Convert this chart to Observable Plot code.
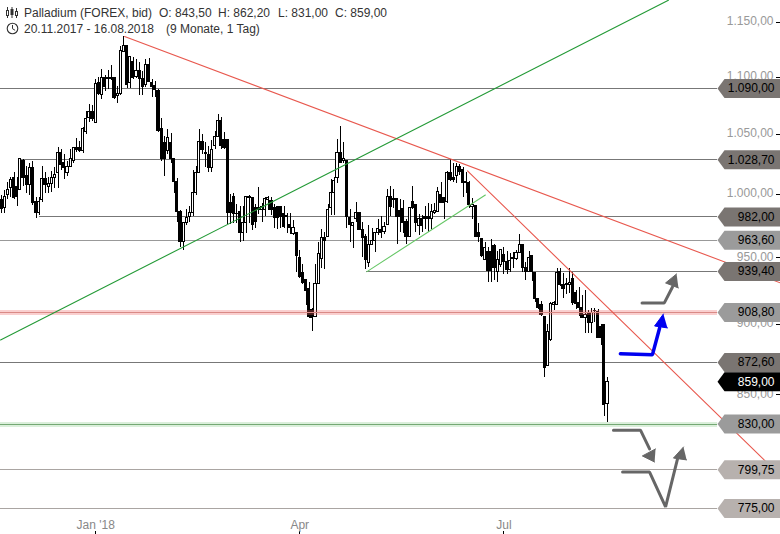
<!DOCTYPE html>
<html><head><meta charset="utf-8">
<script src="https://cdn.jsdelivr.net/npm/d3@7"></script>
<script src="https://cdn.jsdelivr.net/npm/@observablehq/plot@0.6"></script>
<style>
html,body{margin:0;padding:0;background:#fff}
#wrap{position:relative;width:780px;height:534px;overflow:hidden;font:12px "Liberation Sans",Arial,sans-serif;color:#333}
#wrap span.h{position:absolute;white-space:pre;line-height:14px}
#wrap svg.icon{position:absolute}
</style></head><body><div id="wrap"></div>
<script>
const opens=[996,989,1000,1005,1014,1006,1004,1028,1015,1008,
1022,994,985,996,1013,1006,1009,1014,1018,1034,
1026,1018,1023,1028,1039,1039,1036,1052,1064,1069,
1060,1095,1084,1099,1098,1098.5,1099,1083,1085,1123,
1128,1095,1114,1100,1106,1098,1093,1111,1095,1092,
1088,1055,1043,1036,1043,1029,1010,986,962,977,
982,985,1001,1018,1044,1034,1033,1022,1040,1048,
1062,1045.5,1045,993,998,984.5,986,969,977,997.5,
997,989,989,987.5,987.5,995.7,995,989,990,990,
984,983,976,968.5,969,950,938,933,926,910.6,
905.5,930,949,965.5,966,989,1001,1014,1034.5,1027.5,
1028,981,975,980,985,972,966,946,960,963,
969,972,970,975.5,998,996.5,996.5,987,988,978,
966,994,992,975,980,982,982,980,985,986,
1000,997,994,1018,1014,1015,1023,1020,1010.5,1009.5,
990,991,969,964.5,948,954.5,954.5,959,939,944.5,
952,947,940.7,949,949,954,960,942.5,939,951,
938,919,914,905.5,870,889,914,914.5,939,929,
929,929.5,934,923,916,912,905,908,901,910,
909,898,899.5,843.5];
const highs=[999,1003,1010,1014,1018,1014,1030,1029,1023,1026,
1027,998,998,1023,1018,1014,1019,1022,1039,1037,
1033,1027,1037,1039,1047,1044,1056,1070,1076,1075,
1098,1100,1107,1102,1106,1111,1100,1092,1128,1137,
1128,1118,1118,1116,1113,1105,1116,1117,1098,1096,
1089.5,1063.5,1048,1054,1051,1029,1013,987.5,978,988,
990,1020,1023,1054,1050,1043,1040,1045,1053,1067,
1065,1052,1045,1000,1001,992,990,990,998.5,999,
998,992,1006,993,998,998.5,998,992,990,990,
990,985,985,979,970,956,944.5,933,931,912,
945,962,972,970,992,1012,1014,1046,1057,1043,
1028,988,978,994,985,978,968,975,973,969,
980,982,978,1004,1007,1004,997,996,995,980,
989,1007,992,984,983,990,993,992,993,1006,
1010,998,1019,1029,1026,1026,1025,1022,1018.5,1011,
997,991,977,964.5,962,958,964,960,955,956,
958,954.5,953,954,956,968.5,960,946,954.5,952,
939,919,917,905.5,900,916,917,942,942,938,
934,942,938.5,925,927,921,925,910,912,912,
911,900,899.5,862.2];
const lows=[985,985,996,998,996,990,1003,1007,1001,999,
991,981,983,994,1001,1001,1002,1005,1005,1020,
1012,1015,1022,1026,1035,1035,1034,1050,1060,1061,
1060,1084,1080,1087,1089,1097,1080,1077,1084,1122,
1090,1090,1097.7,1099,1084,1084,1091,1095,1082,1082,
1052,1027,1015,1033,1026,1001,978,958,956,975,
978,982,999,1017,1033,1022,1018,1018,1037,1048,
1037,1037,976,976,977,977,962,963,969,977,
971,973,984,978,982,987.5,983,973,972,973,
973,969,968,967,939,934,929.5,914,904.5,895,
905,930,942,941,965.5,983,983,1009,1026,1026,
973,962,957,978,971,950,941,942.5,960,954,
967,965,968,975,982,989,960,970,969,960,
965.5,988,970,967,970,972,970,972,984,986,
993,980,993,1011,1009.5,1009,1016,998,1001,989,
980,965.5,961.5,950,948,931,931,933,931,942.5,
937,937,939,942,948,953,938.5,933,939,932,
916,911,905.5,861.7,869.6,887.3,910,914,928,919,
922,923,914,910.6,906,904,893.7,893,893,901,
890,885,835,831];
const closes=[988,998,1004,1012,997,998,1029,1014,1008,1022,
993,985,994,1013,1008,1009,1014,1016,1034,1024,
1022,1023,1029,1039,1037,1036,1055,1063.5,1069,1063,
1094,1085,1099,1091,1099,1099,1082,1085,1124,1128,
1093,1118,1099.5,1106,1098,1091,1111,1096,1091,1089,
1053,1029.5,1029.5,1047,1029,1010,986,962,977,981,
985,1001,1018,1044,1037,1033.5,1022,1037,1048,1062,
1040,1039,985,985,984,984,969,977,998,998,
975.5,978,987.5,990,996.5,997,987.5,981,981,982,
974,982,973,973,951,935,931,925,905.5,905,
930,953,965.5,963,987.5,1001,1011,1034.5,1026,1029,
982,975.5,977,985,972,965.5,948,960,963,969,
972.5,969,974,998,990,996,982,982,977,966,
989,989,977,980,975,980,980,986,987,1002,
993,993,1018,1012,1012,1023,1018.5,1009.5,1009.5,992,
991.5,966,966,951,957.5,940,940,942,948,956,
947,941,947.5,950,954,960,942.5,939,950,939,
919,912,907,869,894.5,915,916,938,929,926,
930,931,916,915,912,905,907,901,908,909.5,
890,890,843,859];

const yTicks=[1150,1100,1050,1000,950,900,850];
const yTickLabels=["1.150,00","1.100,00","1.050,00","1.000,00","950,00","900,00","850,00"];
const xTicks=[30,95,160];
const xTickLabels=["Jan '18","Apr","Jul"];

const levelValues=[1090,1028.7,982,963.6,939.4,908.8,872.6,859,830,799.75,775];
const levelLabels=["1.090,00","1.028,70","982,00","963,60","939,40","908,80","872,60","859,00","830,00","799,75","775,00"];
const levelStart=[-0.3,6,12,-0.3,116.4,-0.3,-0.3,null,-0.3,-0.3,-0.3];
const levelLine=["#777","#777","#777","#999","#777","#d98a86","#777",null,"#74a874","#aaa5a2","#aaa5a2"];
const levelTag=["#7a7572","#7a7572","#7a7572","#9b9b9b","#7a7572","#9b9b9b","#7a7572","#000","#9b9b9b","#b7b1ae","#b7b1ae"];
const levelText=["#000","#000","#000","#000","#000","#000","#000","#fff","#000","#000","#000"];
const lineEnd=228;

const trendRed=[[[39.2,1137],[248.1,930.8]],[[148.4,1019.5],[243.6,804.8]]];
const trendGreen=[[-0.3,888.7],[212.4,1171]];
const trendLightGreen=[[116.4,939.4],[154.1,999.7]];

const arrowA=[[204,915.8],[211.1,915.8],[213.7,927.7]];
const arrowAHead=[[215,937.6],[211.5,930.8],[215.6,927]];
const arrowBlue=[[197.1,878.7],[207.3,878],[209.6,897.4]];
const arrowBlueHead=[[210.8,907.6],[208,898.8],[212.1,897.4]];
const arrowB=[[194.9,825.9],[203.5,825.9],[206.4,813.4]];
const arrowBHead=[[208,804.8],[204.1,808.8],[208.3,813.4]];
const arrowC=[[197.8,798.3],[206.4,798.3],[211.5,776],[215.3,806.8]];
const arrowCHead=[[217.2,814.7],[214,807.4],[218.2,806.2]];

const candles=opens.map((o,i)=>({i,o,h:highs[i],l:lows[i],c:closes[i]}));
const levels=levelValues.map((v,i)=>({v,label:levelLabels[i],start:levelStart[i],line:levelLine[i],tag:levelTag[i],text:levelText[i]}));
const ruled=levels.filter(d=>d.line);
const yT=yTicks.map((v,i)=>({v,label:yTickLabels[i]}));
const xT=xTicks.map((v,i)=>({v,label:xTickLabels[i]}));
const tagSymbol={draw(c){c.moveTo(-63,0);c.lineTo(-56,-9.5);c.lineTo(0,-9.5);c.lineTo(0,9.5);c.lineTo(-56,9.5);c.closePath();}};

const poly=(pts,color,w)=>Plot.line(pts,{x:d=>d[0],y:d=>d[1],stroke:color,strokeWidth:w,strokeLinejoin:"miter"});
const head=(pts,color)=>Plot.line(pts,{x:d=>d[0],y:d=>d[1],stroke:color,strokeWidth:1,fill:color});

const chart=Plot.plot({
  width:780,height:534,margin:0,
  style:{background:"#fff",fontFamily:"'Liberation Sans',Arial,sans-serif",fontSize:"12px"},
  x:{type:"linear",domain:[0,193],range:[1,607],axis:null},
  y:{type:"log",domain:[775,1090],range:[508,88],axis:null},
  marks:[
    Plot.ruleY(ruled.filter(d=>d.v!==908.8&&d.v!==830),{y:"v",x1:"start",x2:lineEnd,stroke:"line",strokeWidth:1,shapeRendering:"crispEdges"}),
    Plot.text(yT,{y:"v",text:"label",frameAnchor:"right",dx:-7,dy:-1,textAnchor:"end",fill:"#999",fontSize:12}),
    Plot.tickY(yT,{y:"v",insetLeft:776,stroke:"#000",shapeRendering:"crispEdges"}),
    Plot.ruleX(candles,{x:"i",y1:"l",y2:"h",stroke:"#000",strokeWidth:1,shapeRendering:"crispEdges"}),
    Plot.rect(candles,{x1:d=>d.i-0.34,x2:d=>d.i+0.34,y1:"o",y2:"c",fill:d=>d.c>=d.o?"#fff":"#000",stroke:"#000",strokeWidth:1,shapeRendering:"crispEdges"}),
    Plot.ruleY([908.8],{x1:-0.3,x2:lineEnd,stroke:"#f06060",strokeOpacity:0.3,strokeWidth:5,shapeRendering:"crispEdges"}),
    Plot.ruleY([908.8],{x1:-0.3,x2:lineEnd,stroke:"#d98a86",strokeWidth:1,shapeRendering:"crispEdges"}),
    Plot.ruleY([830],{x1:-0.3,x2:lineEnd,stroke:"#70c070",strokeOpacity:0.25,strokeWidth:5,shapeRendering:"crispEdges"}),
    Plot.ruleY([830],{x1:-0.3,x2:lineEnd,stroke:"#74a874",strokeWidth:1,shapeRendering:"crispEdges"}),
    ...trendRed.map(t=>poly(t,"#e8584e",1.1)),
    poly(trendGreen,"#239a36",1.1),
    poly(trendLightGreen,"#66c766",1.1),
    poly(arrowA,"#666",3),head(arrowAHead,"#666"),
    poly(arrowB,"#666",3),head(arrowBHead,"#666"),
    poly(arrowC,"#666",3),head(arrowCHead,"#666"),
    poly(arrowBlue,"#0000f0",3.5),head(arrowBlueHead,"#0000f0"),
    Plot.dot(levels,{y:"v",frameAnchor:"right",symbol:tagSymbol,fill:"tag",stroke:"none"}),
    Plot.text(levels,{y:"v",text:"label",frameAnchor:"right",dx:-6,textAnchor:"end",fill:"text",fontSize:12}),
    Plot.tickX(xT,{x:"v",insetTop:531,stroke:"#000",shapeRendering:"crispEdges"}),
    Plot.text(xT,{x:"v",text:"label",frameAnchor:"bottom",dy:-6,fill:"#888",fontSize:12})
  ]
});
const wrap=document.getElementById("wrap");
wrap.appendChild(chart);
const hdr=[["Palladium (FOREX, bid)",24,6],["O: 843,50",159,6],["H: 862,20",218,6],["L: 831,00",278,6],["C: 859,00",335,6],
["20.11.2017 - 16.08.2018",24,22],["(9 Monate, 1 Tag)",166,22]];
for(const [t,x,y] of hdr){const s=document.createElement("span");s.className="h";s.textContent=t;s.style.left=x+"px";s.style.top=y+"px";wrap.appendChild(s);}
wrap.insertAdjacentHTML("beforeend",`<svg class="icon" style="left:5px;top:6px" width="14" height="13" stroke="#333" fill="none"><path d="M2.5 1v11M7 1v11M11.5 2v10" stroke-width="1"/><rect x="1.5" y="4.5" width="2" height="5" fill="#fff"/><rect x="6" y="3.5" width="2" height="5" fill="#333"/><rect x="10.5" y="5.5" width="2" height="4" fill="#fff"/></svg>
<svg class="icon" style="left:6px;top:22px" width="13" height="13" stroke="#333" fill="none"><circle cx="6.5" cy="6.5" r="5.3" stroke-width="1.1"/><path d="M6.5 3v3.7l2.6 1.6" stroke-width="1"/></svg>`);
</script></body></html>
